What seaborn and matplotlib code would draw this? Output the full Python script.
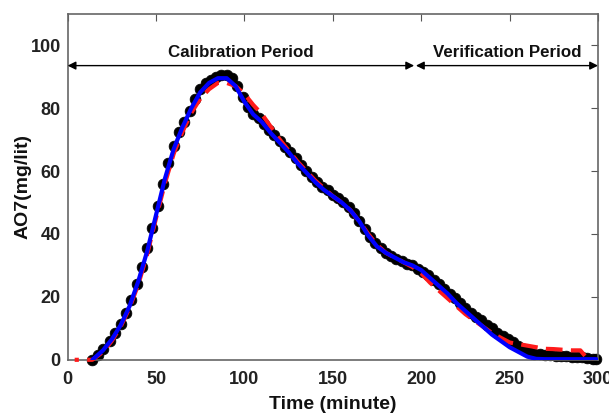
import matplotlib
matplotlib.use("Agg")
import matplotlib.pyplot as plt
import seaborn as sns
import pandas as pd

# Observed (black dots)
obs_t = [14, 17, 20, 24, 27, 30, 33, 36, 39, 42, 45, 48, 51, 54, 57, 60, 63, 66, 69, 72,
         75, 78, 81, 84, 87, 90, 93, 96, 99, 102, 105, 108, 111, 114, 117, 120, 123, 126,
         129, 132, 135, 138, 141, 144, 147, 150, 153, 156, 159, 162, 165, 168, 171, 174,
         177, 180, 183, 186, 189, 192, 195, 198, 201, 204, 207, 210, 213, 216, 219, 222,
         225, 228, 231, 234, 237, 240, 243, 246, 249, 252, 255, 258, 261, 264, 267, 270,
         273, 276, 279, 282, 285, 288, 291, 294, 297, 299]
obs_c = [0, 1.5, 3.5, 6, 8.5, 11.5, 15, 19, 24, 29.5, 35.5, 42, 49, 56, 62.5, 68, 72.5, 75.5, 79, 83,
         86, 88, 89, 90, 90.5, 90.5, 89.5, 87, 83.5, 80.5, 78, 77, 75, 73, 71.5, 69.5, 67.5, 66,
         64, 62, 60, 58, 56.5, 55, 54, 52.5, 51.5, 50, 48.5, 46.5, 44, 41.5, 39, 37,
         35.5, 34, 33, 32, 31.5, 30.5, 30, 29, 28, 27, 25.5, 24, 22.5, 21, 19.5, 18,
         16.5, 15, 13.5, 12.5, 11, 10, 8.5, 7.5, 6.5, 5.5, 4.5, 3.5, 2.5, 2, 1.8, 1.5,
         1.5, 1.3, 1.2, 1.2, 1, 1, 0.8, 0.6, 0.4, 0.3]

# Model 1 (blue solid)
blue_t = [14, 20, 25, 30, 35, 40, 45, 50, 55, 60, 65, 70, 75, 80, 85, 90, 95, 100, 105, 110,
          115, 120, 125, 130, 135, 140, 145, 150, 155, 160, 165, 170, 175, 180, 185, 190, 195,
          200, 205, 210, 215, 220, 225, 230, 235, 240, 245, 250, 255, 260, 265, 270, 280, 290, 299]
blue_c = [0, 3, 6.5, 11, 17, 25, 34.5, 46, 57.5, 67, 74, 80, 85, 88, 89.5, 89.5, 87, 82, 78, 75.5,
          72, 69, 66, 62.5, 59.5, 56.5, 54, 52, 50, 47.5, 44, 39.5, 36, 34, 32.5, 31, 30,
          28.5, 26, 23.5, 21, 18, 15.5, 13, 10.5, 8, 6, 4, 2.5, 1, 0.3, 0.2, 0.2, 0.2, 0.2]

# Model 2 (red dashed)
red_t = [4, 14, 20, 25, 30, 35, 40, 45, 50, 55, 60, 65, 70, 75, 80, 85, 90, 95, 100, 105, 110,
         115, 120, 125, 130, 135, 140, 145, 150, 155, 160, 165, 170, 175, 180, 185, 190, 195,
         200, 205, 210, 215, 220, 225, 230, 235, 240, 245, 250, 255, 260, 265, 270, 275, 280,
         285, 288, 290, 293, 297]
red_c = [0, 0, 2.5, 6, 10.5, 16.5, 24, 33.5, 45, 56, 65.5, 72.5, 78.5, 83, 86, 88, 88, 87, 84.5,
         81, 78, 74, 70, 66.5, 63, 60, 57, 54.5, 52, 50, 47.5, 44, 40, 36.5, 34, 32.5, 31, 29.5,
         27.5, 24.5, 22, 19.5, 17, 14.5, 12.5, 10.5, 8.5, 7, 5.5, 5, 4.5, 4, 3.5, 3.4, 3.2,
         3, 3, 3, 1, 0.3]

x_ticks = [0, 50, 100, 150, 200, 250, 300]
y_ticks = [0, 20, 40, 60, 80, 100]
period_labels = ["Calibration Period", "Verification Period"]
period_bounds = [(0, 196), (197, 300)]

sns.set_style("white")
plt.rcParams['font.family'] = ['Liberation Sans', 'DejaVu Sans']
plt.rcParams['font.weight'] = 'bold'

fig = plt.figure(figsize=(6.09, 4.15), dpi=100)
ax = fig.add_axes([0.111, 0.133, 0.871, 0.834])

df_obs = pd.DataFrame({"t": obs_t, "c": obs_c})
df_blue = pd.DataFrame({"t": blue_t, "c": blue_c})
df_red = pd.DataFrame({"t": red_t, "c": red_c})

sns.scatterplot(data=df_obs, x="t", y="c", ax=ax, color="black", s=60, edgecolor="black",
                linewidth=0.5, zorder=2, clip_on=False)
sns.lineplot(data=df_red, x="t", y="c", ax=ax, color="#ff1a1a", linewidth=3,
             dashes=False, zorder=3, clip_on=False)
ax.lines[-1].set_linestyle((9, (4, 2)))
sns.lineplot(data=df_blue, x="t", y="c", ax=ax, color="#0000ff", linewidth=3, zorder=4)

ax.set_xlim(0, 300)
ax.set_ylim(0, 110)
ax.set_xticks(x_ticks)
ax.set_yticks(y_ticks)
ax.tick_params(direction="in", top=True, right=True, length=5, color="#555555",
               labelsize=13, labelcolor="#222222")
ax.tick_params(axis="x", pad=8)
ax.tick_params(axis="y", pad=5)
for lbl in ax.get_xticklabels() + ax.get_yticklabels():
    lbl.set_fontweight("bold")
for s in ax.spines.values():
    s.set_color("#666666")
    s.set_linewidth(1.2)

ax.set_xlabel("Time (minute)", fontsize=14, fontweight="bold", labelpad=6, color="#111111")
ax.set_ylabel("AO7(mg/lit)", fontsize=14, fontweight="bold", color="#111111")
ax.yaxis.set_label_coords(-0.068, 0.5)

arrow_y = 93.5
text_y = 97.8
for (x0, x1), lab in zip(period_bounds, period_labels):
    ax.annotate("", xy=(x1, arrow_y), xytext=(x0, arrow_y),
                arrowprops=dict(arrowstyle="<|-|>", color="black", lw=1.0,
                                mutation_scale=12, shrinkA=0, shrinkB=0))
    ax.text((x0 + x1) / 2, text_y, lab, ha="center", va="center", fontsize=12.2,
            fontweight="bold", color="#111111")

fig.savefig("out.png", dpi=100)
